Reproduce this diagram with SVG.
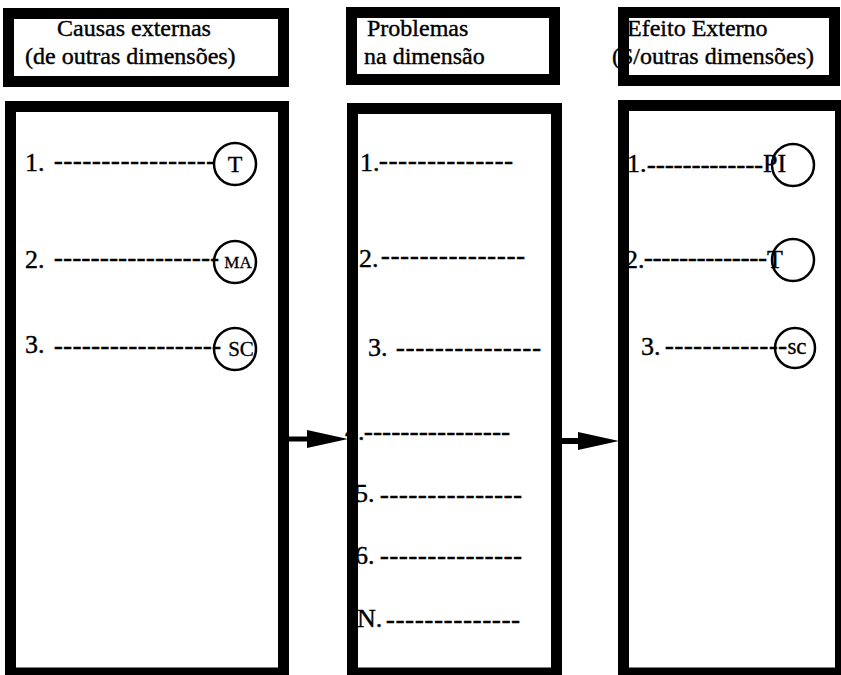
<svg xmlns="http://www.w3.org/2000/svg" width="841" height="675" viewBox="0 0 841 675">
<style>
  .box { fill: none; stroke: #000; stroke-width: 11; }
  .hd { font-family: "Liberation Serif", "Times New Roman", serif; font-size: 24px; fill: #000; stroke: #000; stroke-width: 0.4; }
  .it { font-family: "Liberation Serif", "Times New Roman", serif; font-size: 26px; fill: #000; stroke: #000; stroke-width: 0.4; }
  .ds { font-family: "Liberation Serif", "Times New Roman", serif; font-size: 26px; fill: #000; stroke: #000; stroke-width: 0.7; }
  .cl { font-family: "Liberation Serif", "Times New Roman", serif; fill: #000; stroke: #000; stroke-width: 0.3; text-anchor: middle; }
  .circ { fill: none; stroke: #000; stroke-width: 2.5; }
  .arr { stroke: #000; fill: none; }
</style>
<defs>
  <marker id="ah" markerUnits="userSpaceOnUse" markerWidth="42" markerHeight="20" refX="13" refY="9" orient="auto">
    <path d="M0,0 L41,9 L0,18 Z" fill="#000"/>
  </marker>
</defs>
<rect width="841" height="675" fill="#fff"/>

<g id="header-causas">
  <text class="hd" x="57" y="36">Causas externas</text>
  <text class="hd" x="25" y="64">(de outras dimensões)</text>
  <rect class="box" x="8.5" y="13.5" width="275" height="68"/>
</g>
<g id="header-problemas">
  <text class="hd" x="367" y="36">Problemas</text>
  <text class="hd" x="364" y="64">na dimensão</text>
  <rect class="box" x="351.5" y="12.5" width="203" height="67"/>
</g>
<g id="header-efeito">
  <text class="hd" x="627" y="36">Efeito Externo</text>
  <text class="hd" x="612" y="64">(S/outras dimensões)</text>
  <rect class="box" x="623.5" y="12.5" width="211" height="68"/>
</g>

<g id="box-causas">
  <text class="it" x="25" y="171">1.</text>
  <text class="ds" x="54" y="169" textLength="161" lengthAdjust="spacing">-----------------</text>
  <text class="it" x="25" y="268">2.</text>
  <text class="ds" x="54" y="266" textLength="165" lengthAdjust="spacing">------------------</text>
  <text class="it" x="25" y="353">3.</text>
  <text class="ds" x="54" y="354" textLength="167" lengthAdjust="spacing">------------------</text>
  <circle class="circ" cx="235" cy="164" r="21"/>
  <text class="cl" x="235" y="172" font-size="24">T</text>
  <circle class="circ" cx="235" cy="262" r="21"/>
  <text class="cl" x="238" y="268" font-size="17">MA</text>
  <circle class="circ" cx="235" cy="349" r="21"/>
  <text class="cl" x="241" y="356" font-size="21">SC</text>
  <rect class="box" x="10.5" y="106.5" width="273" height="566.5"/>
</g>

<g id="box-problemas">
  <text class="it" x="360" y="171">1.</text>
  <text class="ds" x="379" y="169" textLength="134" lengthAdjust="spacing">--------------</text>
  <text class="it" x="359" y="267">2.</text>
  <text class="ds" x="381" y="264" textLength="144" lengthAdjust="spacing">---------------</text>
  <text class="it" x="368" y="356">3.</text>
  <text class="ds" x="396" y="356" textLength="145" lengthAdjust="spacing">---------------</text>
  <text class="it" x="345" y="440">4.</text>
  <text class="ds" x="364" y="440" textLength="146" lengthAdjust="spacing">----------------</text>
  <text class="it" x="355" y="502">5.</text>
  <text class="ds" x="380" y="503" textLength="142" lengthAdjust="spacing">---------------</text>
  <text class="it" x="355" y="564">6.</text>
  <text class="ds" x="380" y="564" textLength="142" lengthAdjust="spacing">---------------</text>
  <text class="it" x="357" y="627">N.</text>
  <text class="ds" x="386" y="628" textLength="134" lengthAdjust="spacing">--------------</text>
  <rect class="box" x="352.5" y="108.5" width="204" height="564.5"/>
</g>

<g id="box-efeito">
  <text class="it" x="627" y="172">1.</text>
  <text class="ds" x="647" y="173" textLength="116" lengthAdjust="spacing">-------------</text>
  <text class="it" x="763" y="172">PI</text>
  <circle class="circ" cx="793" cy="165" r="21"/>
  <text class="it" x="625" y="268">2.</text>
  <text class="ds" x="644" y="266" textLength="123" lengthAdjust="spacing">--------------</text>
  <text class="it" x="767" y="268">T</text>
  <circle class="circ" cx="793" cy="260" r="21"/>
  <text class="it" x="641" y="355">3.</text>
  <text class="ds" x="665" y="354" textLength="122" lengthAdjust="spacing">-------------</text>
  <circle class="circ" cx="795" cy="348" r="20"/>
  <text class="cl" x="797" y="354" font-size="23">sc</text>
  <rect class="box" x="623.5" y="105.5" width="217" height="567.5"/>
</g>

<g id="connectors">
  <line class="arr" x1="289" y1="439" x2="320" y2="439" stroke-width="5" marker-end="url(#ah)"/>
  <line class="arr" x1="562" y1="441" x2="591" y2="441" stroke-width="6" marker-end="url(#ah)"/>
</g>
</svg>
